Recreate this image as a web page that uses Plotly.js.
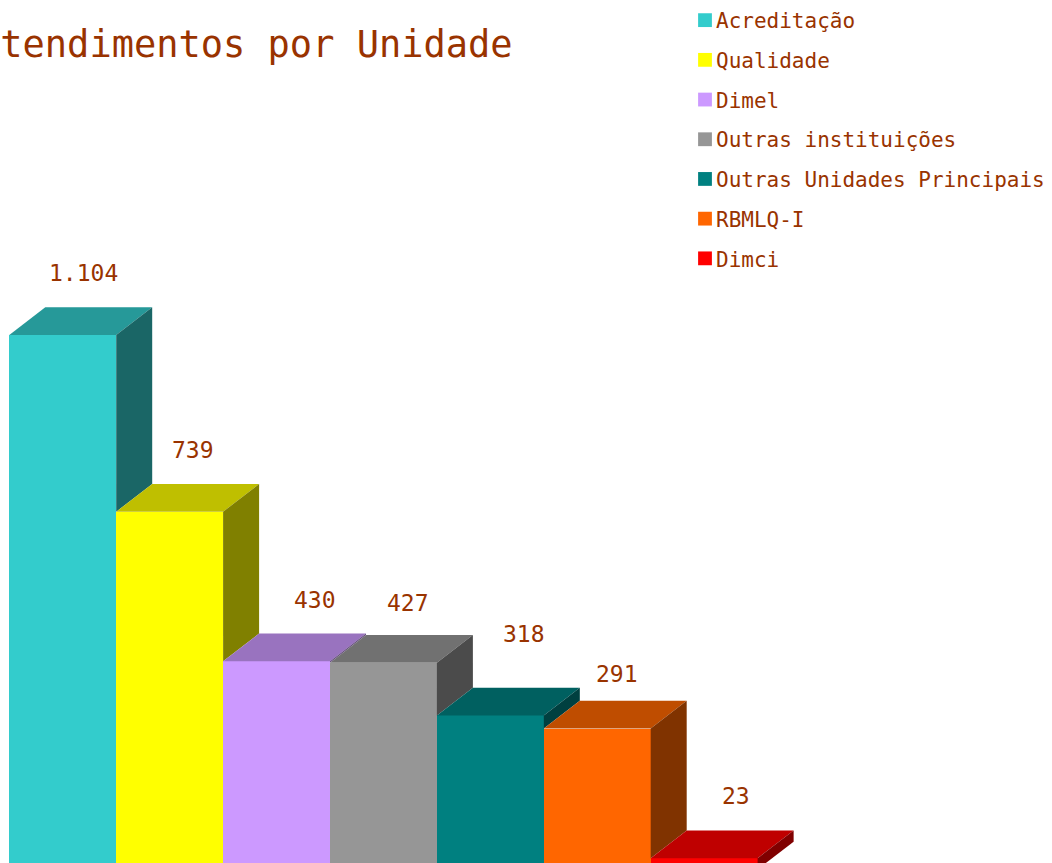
<!DOCTYPE html>
<html>
<head>
<meta charset="utf-8">
<script src="https://cdn.plot.ly/plotly-3.0.1.min.js"></script>
<style>
html,body{margin:0;padding:0;background:#fff;}
#chart{width:1052px;height:863px;}
#chart .legend .legendpoints path{transform:translate(29px,0px) scale(1.15);}
</style>
</head>
<body>
<div id="chart"></div>
<script>
// ---- data ----
const categories = ['Acreditação','Qualidade','Dimel','Outras instituições','Outras Unidades Principais','RBMLQ-I','Dimci'];
const values = [1104, 739, 430, 427, 318, 291, 23];
const valueLabels = ['1.104','739','430','427','318','291','23'];
const barColors = ['#33CCCC','#FFFF00','#CC99FF','#969696','#008080','#FF6600','#FF0000'];
const titleText = 'Atendimentos por Unidade';

// ---- layout / style ----
const W = 1052, H = 863;
const xRange = [-0.087, 9.754];
const yRange = [13.2, 1796.3];
const pxPerX = W / (xRange[1] - xRange[0]);
const pxPerY = H / (yRange[1] - yRange[0]);
const depthX = 36 / pxPerX;     // 3D depth offset in data units
const depthY = 27.7 / pxPerY;
const textColor = '#993300';
const mono = 'DejaVu Sans Mono, monospace';
const labelNudgeX = [-1, 1, 16, 3, 12, -2, 10];
const labelNudgeY = [0, 0, 0, -2, 20, -7, 1];

function shade(hex, f) {
  const n = parseInt(hex.slice(1), 16);
  const r = Math.round(((n >> 16) & 255) * f), g = Math.round(((n >> 8) & 255) * f), b = Math.round((n & 255) * f);
  return 'rgb(' + r + ',' + g + ',' + b + ')';
}

const traces = [];
// front faces
categories.forEach((c, i) => {
  traces.push({
    type: 'bar', name: c, x: [i + 0.5], y: [values[i]], width: [1],
    marker: {color: barColors[i], line: {width: 0}},
    legendgroup: 'g' + i, hoverinfo: 'name+y'
  });
});
// top and side faces
categories.forEach((c, i) => {
  const v = values[i];
  const next = i + 1 < values.length ? values[i + 1] : 0;
  traces.push({
    type: 'scatter', mode: 'lines', fill: 'toself', showlegend: false, hoverinfo: 'skip',
    x: [i, i + depthX, i + 1 + depthX, i + 1, i],
    y: [v, v + depthY, v + depthY, v, v],
    fillcolor: shade(barColors[i], 0.75), line: {width: 0}
  });
  traces.push({
    type: 'scatter', mode: 'lines', fill: 'toself', showlegend: false, hoverinfo: 'skip',
    x: [i + 1, i + 1, i + 1 + depthX, i + 1 + depthX, i + 1],
    y: [next, v, v + depthY, next + depthY, next],
    fillcolor: shade(barColors[i], 0.5), line: {width: 0}
  });
});

const annotations = values.map((v, i) => ({
  x: i + 0.5, y: v, xref: 'x', yref: 'y', text: valueLabels[i], showarrow: false,
  xshift: 22 + labelNudgeX[i], yshift: 27.7 + 34 + labelNudgeY[i],
  font: {family: mono, size: 23, color: textColor}
}));
annotations.push({
  x: -22.5 / W, y: 1 - 44 / H, xref: 'paper', yref: 'paper', xanchor: 'left', yanchor: 'middle',
  text: titleText, showarrow: false, borderpad: 0, borderwidth: 0,
  font: {family: mono, size: 37, color: textColor}
});

const layout = {
  width: W, height: H,
  margin: {l: 0, r: 0, t: 0, b: 0, pad: 0},
  paper_bgcolor: '#ffffff', plot_bgcolor: '#ffffff',
  barmode: 'overlay', bargap: 0,
  xaxis: {range: xRange, visible: false, fixedrange: true},
  yaxis: {range: yRange, visible: false, fixedrange: true},
  showlegend: true,
  legend: {
    x: 676 / W, y: 1, xanchor: 'left', yanchor: 'top',
    font: {family: mono, size: 21, color: textColor},
    bgcolor: 'rgba(0,0,0,0)', borderwidth: 0, tracegroupgap: 9.4, traceorder: 'grouped'
  },
  annotations: annotations
};

Plotly.newPlot('chart', traces, layout, {displayModeBar: false, staticPlot: true});
</script>
</body>
</html>
